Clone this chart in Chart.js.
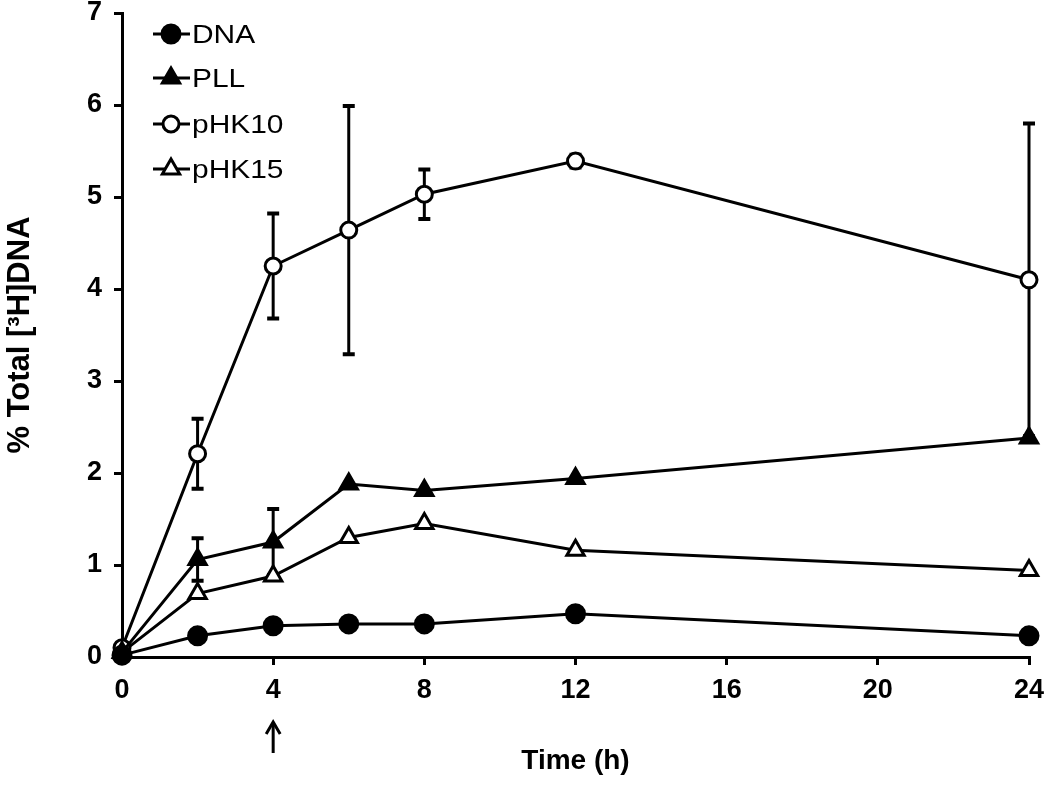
<!DOCTYPE html>
<html>
<head>
<meta charset="utf-8">
<script src="https://cdn.jsdelivr.net/npm/chart.js@4"></script>
<style>
html,body{margin:0;padding:0;background:#fff;}
#wrap{width:1050px;height:785px;position:relative;}
</style>
</head>
<body>
<div id="wrap"><canvas id="c" width="1050" height="785"></canvas></div>
<script>
const times = [0, 2, 4, 6, 8, 12, 24];
const seriesNames = ['DNA', 'PLL', 'pHK10', 'pHK15'];
const dnaVals   = [0.02, 0.23, 0.34, 0.36, 0.36, 0.47, 0.23];
const pllVals   = [0.05, 1.06, 1.25, 1.88, 1.81, 1.94, 2.38];
const phk10Vals = [0.10, 2.21, 4.25, 4.64, 5.03, 5.39, 4.10];
const phk15Vals = [0.05, 0.69, 0.88, 1.30, 1.45, 1.16, 0.94];
const dnaErr    = [0, 0, 0, 0, 0, 0, 0];
const pllErr    = [0, 0.23, 0.36, 0, 0, 0, 0];
const phk10Err  = [0, 0.38, 0.57, 1.35, 0.27, 0.07, 1.70];
const phk15Err  = [0, 0, 0, 0, 0, 0, 0];
const xTickVals = [0, 4, 8, 12, 16, 20, 24];
const yTickVals = [0, 1, 2, 3, 4, 5, 6, 7];
const arrowAt = 4;

const toPts = vals => times.map((t, i) => ({x: t, y: vals[i]}));

const styles = [
  {pointStyle: 'circle', radius: 9, bg: '#000'},
  {pointStyle: 'triangle', radius: 10, bg: '#000'},
  {pointStyle: 'circle', radius: 8, bg: '#fff'},
  {pointStyle: 'triangle', radius: 10, bg: '#fff'}
];
const allVals = [dnaVals, pllVals, phk10Vals, phk15Vals];
const allErr = [dnaErr, pllErr, phk10Err, phk15Err];

const datasets = seriesNames.map((n, i) => ({
  label: n,
  data: toPts(allVals[i]),
  errors: allErr[i],
  borderColor: '#000',
  borderWidth: 3,
  backgroundColor: styles[i].bg,
  pointBackgroundColor: styles[i].bg,
  pointBorderColor: '#000',
  pointBorderWidth: 3,
  pointStyle: styles[i].pointStyle,
  pointRadius: styles[i].radius,
  tension: 0,
  fill: false,
  clip: false
}));

const errorBars = {
  id: 'errorBars',
  beforeDatasetsDraw(chart) {
    const ctx = chart.ctx;
    const ys = chart.scales.y;
    ctx.save();
    ctx.strokeStyle = '#000';
    ctx.lineWidth = 3;
    chart.data.datasets.forEach((ds, di) => {
      const meta = chart.getDatasetMeta(di);
      ds.data.forEach((p, i) => {
        const e = ds.errors[i];
        if (!e) return;
        const x = meta.data[i].x;
        const yt = ys.getPixelForValue(p.y + e);
        const yb = ys.getPixelForValue(p.y - e);
        ctx.beginPath();
        ctx.moveTo(x, yt); ctx.lineTo(x, yb);
        ctx.stroke();
        ctx.lineWidth = 4;
        ctx.beginPath();
        ctx.moveTo(x - 6, yt); ctx.lineTo(x + 6, yt);
        ctx.moveTo(x - 6, yb); ctx.lineTo(x + 6, yb);
        ctx.stroke();
        ctx.lineWidth = 3;
      });
    });
    ctx.restore();
  }
};

const legendPlugin = {
  id: 'inLegend',
  afterDraw(chart) {
    const ctx = chart.ctx;
    const rows = [34, 78, 124, 169];
    ctx.save();
    chart.data.datasets.forEach((ds, i) => {
      const y = rows[i];
      ctx.strokeStyle = '#000';
      ctx.lineWidth = 3;
      ctx.beginPath();
      ctx.moveTo(153, y); ctx.lineTo(190, y);
      ctx.stroke();
      ctx.fillStyle = ds.pointBackgroundColor;
      ctx.strokeStyle = '#000';
      ctx.lineWidth = 3;
      Chart.helpers.drawPoint(ctx, {pointStyle: ds.pointStyle, radius: ds.pointRadius, borderWidth: 3, rotation: 0}, 171, y);
      ctx.save();
      ctx.translate(192, y + 2);
      ctx.scale(1.15, 1);
      ctx.fillStyle = '#000';
      ctx.font = '26px "Liberation Sans", Arial, sans-serif';
      ctx.textBaseline = 'middle';
      ctx.textAlign = 'left';
      ctx.fillText(ds.label, 0, 0);
      ctx.restore();
    });
    ctx.restore();
  }
};

const arrowPlugin = {
  id: 'arrow',
  afterDraw(chart) {
    const ctx = chart.ctx;
    const x = chart.scales.x.getPixelForValue(arrowAt);
    ctx.save();
    ctx.strokeStyle = '#000';
    ctx.lineWidth = 3;
    ctx.beginPath();
    ctx.moveTo(x, 753); ctx.lineTo(x, 725);
    ctx.stroke();
    ctx.beginPath();
    ctx.moveTo(x - 7, 734); ctx.lineTo(x, 722); ctx.lineTo(x + 7, 734);
    ctx.stroke();
    ctx.restore();
  }
};

const fam = '"Liberation Sans", Arial, sans-serif';
const tickFont = {family: fam, size: 27, weight: 'bold'};

new Chart(document.getElementById('c'), {
  type: 'line',
  data: {datasets},
  options: {
    responsive: false,
    animation: false,
    layout: {padding: {top: 11, right: 21, left: 0, bottom: 0}},
    plugins: {legend: {display: false}, tooltip: {enabled: false}},
    scales: {
      x: {
        type: 'linear', min: 0, max: 24,
        afterBuildTicks(s) { s.ticks = xTickVals.map(v => ({value: v})); },
        afterFit(s) { s.height = 128; s.paddingLeft = 0; s.paddingRight = 0; },
        border: {display: true, color: '#000', width: 3},
        grid: {drawOnChartArea: false, drawTicks: true, tickLength: 8, color: '#000', lineWidth: 3},
        ticks: {color: '#000', font: tickFont, padding: 9, maxRotation: 0},
        title: {display: true, text: 'Time (h)', color: '#000', font: {family: fam, size: 28, weight: 'bold'}, padding: {top: 0, bottom: 7}}
      },
      y: {
        type: 'linear', min: 0, max: 7,
        afterBuildTicks(s) { s.ticks = yTickVals.map(v => ({value: v})); },
        afterFit(s) { s.width = 122; s.paddingTop = 0; s.paddingBottom = 0; },
        border: {display: true, color: '#000', width: 3},
        grid: {drawOnChartArea: false, drawTicks: true, tickLength: 8, color: '#000', lineWidth: 3},
        ticks: {color: '#000', font: tickFont, padding: 12},
        title: {display: true, text: '% Total [³H]DNA', color: '#000', font: {family: fam, size: 31, weight: 'bold'}, padding: {top: 2, bottom: 0}}
      }
    }
  },
  plugins: [errorBars, legendPlugin, arrowPlugin]
});
</script>
</body>
</html>
